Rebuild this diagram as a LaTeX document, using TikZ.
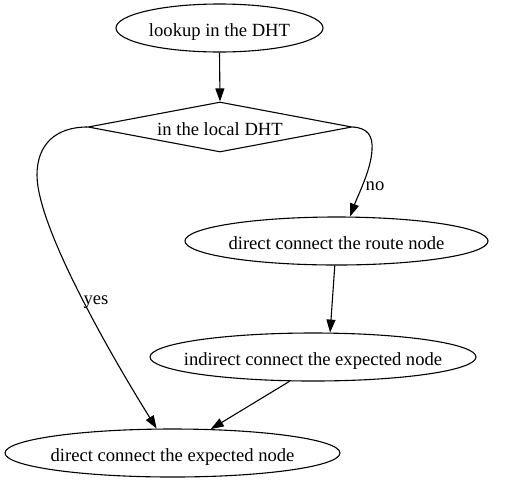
\documentclass[tikz,border=0pt]{standalone}
\usepackage{fontspec}
\setmainfont{Liberation Serif}
\usetikzlibrary{shapes.geometric,arrows.meta}
\newcommand{\ctext}[1]{\raisebox{-8pt}[0pt][0pt]{\makebox[0pt][c]{#1}}}
\begin{document}
\begin{tikzpicture}[x=1pt,y=-1pt,
  every node/.style={font=\fontsize{18.6}{22}\selectfont},
  oval/.style={draw,line width=1.1pt,ellipse,inner sep=0pt,minimum height=48pt},
  decide/.style={draw,line width=1.1pt,diamond,shape aspect=5.28,inner sep=0pt,minimum width=264pt,minimum height=50pt},
  link/.style={draw,line width=1.1pt,-{Triangle[length=13pt,width=9pt]}},
  lbl/.style={inner sep=0pt}]
\useasboundingbox (0,0) rectangle (510,483);
\node[oval,minimum width=207pt] (lookup) at (219.5,28) {\ctext{lookup in the DHT}};
\node[decide] (dht) at (220,127) {\ctext{in the local DHT}};
\node[oval,minimum width=303pt] (route) at (336.5,241) {\ctext{direct connect the route node}};
\node[oval,minimum width=326pt] (indirect) at (313,357) {\ctext{indirect connect the expected node}};
\node[oval,minimum width=335pt] (expected) at (172.5,453) {\ctext{direct connect the expected node}};
\path[link] (lookup.south) -- (dht.north);
\path[link] (dht.east) .. controls (368,128) and (373,136) .. (372,150)
   .. controls (371,170) and (358,195) .. (route.61);
\node[lbl] (no) at (375,186) {no};
\path[link] (dht.west) .. controls (55,127) and (37,145) .. (37,175)
   .. controls (37,230) and (120,370) .. (expected.123);
\node[lbl] (yes) at (96,302) {yes};
\path[link] (route.266) -- (indirect.55);
\path[link] (indirect.226) -- (expected.32);
\end{tikzpicture}
\end{document}
